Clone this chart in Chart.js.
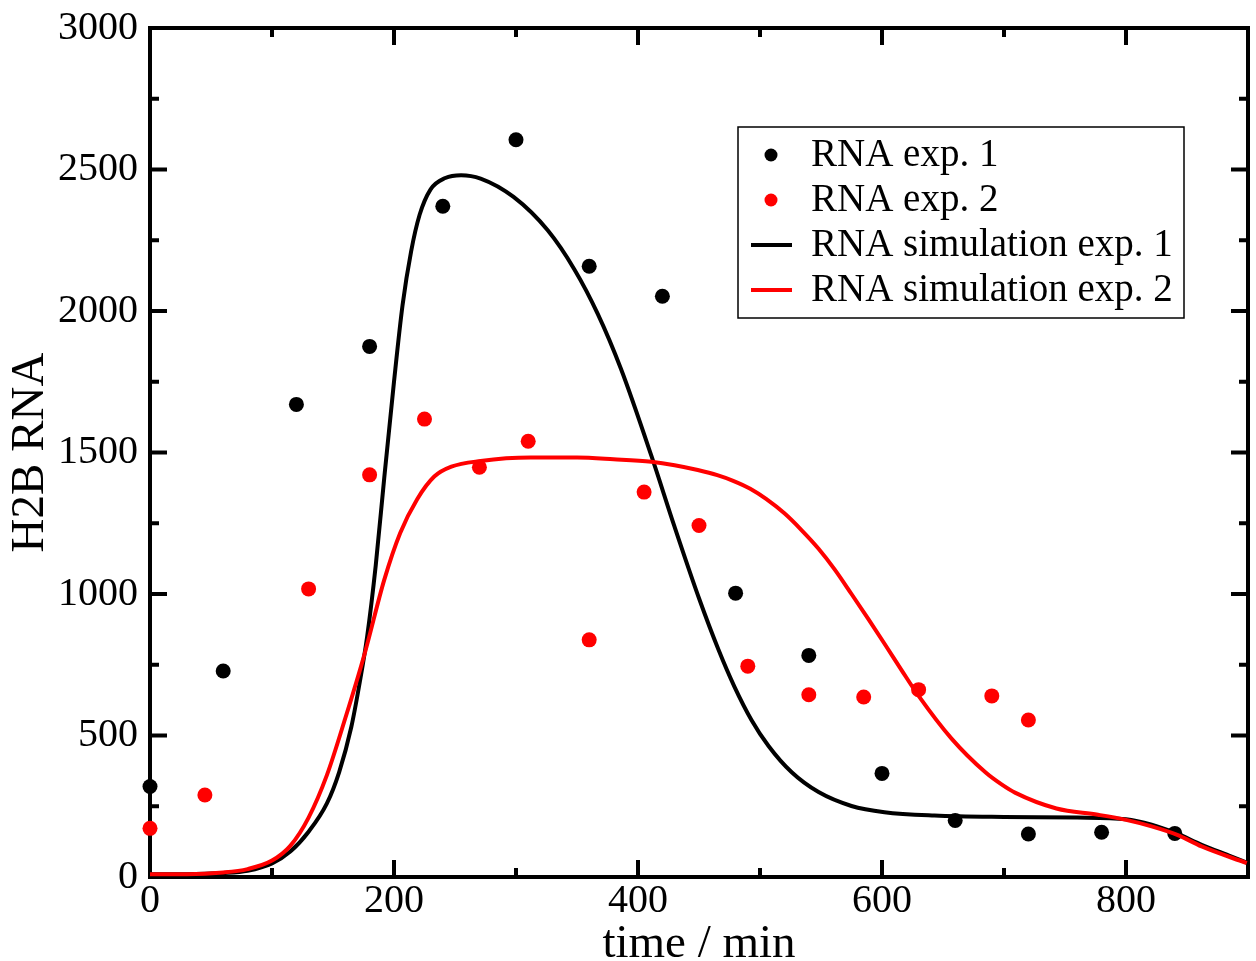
<!DOCTYPE html>
<html lang="en">
<head>
    <meta charset="UTF-8">
    <title>H2B RNA</title>
    <script src="https://cdn.jsdelivr.net/npm/chart.js"></script>
    <style>
        html, body { margin: 0; padding: 0; background: #fff; }
        #wrap { width: 1256px; height: 961px; }
    </style>
</head>
<body>
    <div id="wrap"><canvas id="rnaChart" width="1256" height="961"></canvas></div>
    <script>
        // measured points
        const exp1Time = [0, 60, 120, 180, 240, 300, 360, 420, 480, 540, 600, 660, 720, 780, 840];
        const exp1RNA = [320, 728, 1670, 1875, 2370, 2605, 2158, 2052, 1003, 783, 366, 200, 152, 158, 154];
        const exp2Time = [0, 45, 130, 180, 225, 270, 310, 360, 405, 450, 490, 540, 585, 630, 690, 720];
        const exp2RNA = [172, 290, 1018, 1421, 1618, 1448, 1540, 838, 1360, 1242, 745, 644, 636, 662, 640, 555];

        // simulation curves
        const sim1Time = [0, 30, 60, 80, 100, 115, 130, 145, 155, 165, 172, 178, 185, 192, 200, 207, 214, 221, 230, 242, 255, 271, 298, 326, 348, 367, 386, 411, 430, 450, 466, 479, 493, 507, 526, 548, 575, 602, 643, 700, 760, 800, 821, 841, 862, 886, 900];
        const sim1RNA = [10, 10, 14, 22, 48, 90, 160, 260, 370, 530, 690, 850, 1100, 1410, 1750, 2020, 2210, 2340, 2430, 2470, 2480, 2468, 2403, 2285, 2146, 1990, 1796, 1488, 1237, 985, 803, 673, 555, 463, 370, 300, 251, 229, 217, 212, 210, 204, 185, 155, 114, 73, 49];
        const sim2Time = [0, 30, 60, 80, 100, 115, 130, 145, 160, 176, 192, 205, 219, 233, 247, 271, 312, 350, 380, 411, 430, 449, 465, 478, 492, 505, 520, 534, 548, 561, 575, 589, 603, 616, 630, 657, 685, 698, 709, 743, 777, 800, 821, 842, 862, 899];
        const sim2RNA = [10, 10, 16, 28, 58, 110, 210, 360, 560, 790, 1050, 1215, 1335, 1415, 1450, 1470, 1482, 1482, 1476, 1467, 1455, 1438, 1420, 1400, 1372, 1336, 1285, 1226, 1160, 1088, 1000, 910, 818, 731, 640, 489, 369, 327, 298, 242, 220, 202, 179, 149, 108, 49];

        const xTicks = [0, 200, 400, 600, 800];
        const xMinor = [100, 300, 500, 700, 900];
        const yTicks = [0, 500, 1000, 1500, 2000, 2500, 3000];
        const yMinor = [250, 750, 1250, 1750, 2250, 2750];

        const FONT = "'Liberation Serif', 'Times New Roman', serif";

        const toXY = (xs, ys) => xs.map((x, i) => ({ x: x, y: ys[i] }));

        // box + inward ticks on all four sides
        const framePlugin = {
            id: 'frame',
            beforeDatasetsDraw(chart) {
                const ctx = chart.ctx;
                const a = chart.chartArea;
                const xs = chart.scales.x, ys = chart.scales.y;
                ctx.save();
                ctx.strokeStyle = '#000';
                ctx.lineWidth = 4;
                ctx.lineCap = 'butt';
                ctx.beginPath();
                xTicks.concat(xMinor).forEach(v => {
                    const len = xTicks.includes(v) ? 17 : 9;
                    const px = xs.getPixelForValue(v);
                    ctx.moveTo(px, a.bottom); ctx.lineTo(px, a.bottom - len);
                    ctx.moveTo(px, a.top); ctx.lineTo(px, a.top + len);
                });
                yTicks.concat(yMinor).forEach(v => {
                    const len = yTicks.includes(v) ? 17 : 9;
                    const py = ys.getPixelForValue(v);
                    ctx.moveTo(a.left, py); ctx.lineTo(a.left + len, py);
                    ctx.moveTo(a.right, py); ctx.lineTo(a.right - len, py);
                });
                ctx.stroke();
                ctx.strokeRect(a.left, a.top, a.right - a.left, a.bottom - a.top);
                ctx.restore();
            }
        };

        // legend box inside the plot
        const legendPlugin = {
            id: 'boxLegend',
            afterDraw(chart) {
                const ctx = chart.ctx;
                const left = 738, top = 127, w = 446, h = 191;
                ctx.save();
                ctx.fillStyle = '#fff';
                ctx.fillRect(left, top, w, h);
                ctx.strokeStyle = '#000';
                ctx.lineWidth = 1.5;
                ctx.strokeRect(left, top, w, h);
                ctx.font = '39px ' + FONT;
                ctx.textBaseline = 'middle';
                ctx.textAlign = 'left';
                chart.data.datasets.forEach((ds, i) => {
                    const cy = 155 + i * 45;
                    if (ds.showLine) {
                        ctx.strokeStyle = ds.borderColor;
                        ctx.lineWidth = 4;
                        ctx.beginPath();
                        ctx.moveTo(751, cy); ctx.lineTo(792, cy);
                        ctx.stroke();
                    } else {
                        ctx.fillStyle = ds.backgroundColor;
                        ctx.beginPath();
                        ctx.arc(771, cy, 6.5, 0, Math.PI * 2);
                        ctx.fill();
                    }
                    ctx.fillStyle = '#000';
                    ctx.fillText(ds.label, 811, cy + 1);
                });
                ctx.restore();
            }
        };

        const ctx = document.getElementById('rnaChart').getContext('2d');
        new Chart(ctx, {
            type: 'scatter',
            data: {
                datasets: [
                    {
                        label: 'RNA exp. 1',
                        data: toXY(exp1Time, exp1RNA),
                        backgroundColor: '#000',
                        borderColor: '#000',
                        pointRadius: 7.5,
                        pointBorderWidth: 0,
                        showLine: false,
                        clip: false,
                        order: 4
                    },
                    {
                        label: 'RNA exp. 2',
                        data: toXY(exp2Time, exp2RNA),
                        backgroundColor: '#ff0000',
                        borderColor: '#ff0000',
                        pointRadius: 7.5,
                        pointBorderWidth: 0,
                        showLine: false,
                        clip: false,
                        order: 3
                    },
                    {
                        label: 'RNA simulation exp. 1',
                        data: toXY(sim1Time, sim1RNA),
                        borderColor: '#000',
                        backgroundColor: '#000',
                        borderWidth: 4,
                        pointRadius: 0,
                        showLine: true,
                        cubicInterpolationMode: 'monotone',
                        order: 2
                    },
                    {
                        label: 'RNA simulation exp. 2',
                        data: toXY(sim2Time, sim2RNA),
                        borderColor: '#ff0000',
                        backgroundColor: '#ff0000',
                        borderWidth: 4,
                        pointRadius: 0,
                        showLine: true,
                        cubicInterpolationMode: 'monotone',
                        order: 1
                    }
                ]
            },
            options: {
                responsive: false,
                animation: false,
                layout: { autoPadding: false, padding: { top: 28, right: 8, left: 0, bottom: 0 } },
                plugins: {
                    legend: { display: false },
                    tooltip: { enabled: false }
                },
                scales: {
                    x: {
                        type: 'linear',
                        min: 0,
                        max: 900,
                        afterBuildTicks: s => { s.ticks = xTicks.map(v => ({ value: v })); },
                        afterFit: s => { s.height = 84; s.paddingLeft = 0; s.paddingRight = 0; },
                        grid: { display: false, drawTicks: false },
                        border: { display: false },
                        ticks: {
                            color: '#000', padding: 0, maxRotation: 0,
                            font: { family: FONT, size: 40 },
                            callback: v => String(v)
                        },
                        title: {
                            display: true,
                            text: 'time / min',
                            color: '#000',
                            padding: { top: 0, bottom: -7 },
                            font: { family: FONT, size: 47, lineHeight: 1 }
                        }
                    },
                    y: {
                        min: 0,
                        max: 3000,
                        afterBuildTicks: s => { s.ticks = yTicks.map(v => ({ value: v })); },
                        afterFit: s => { s.width = 150; s.paddingTop = 0; s.paddingBottom = 0; },
                        grid: { display: false, drawTicks: false },
                        border: { display: false },
                        ticks: {
                            color: '#000', padding: 12,
                            font: { family: FONT, size: 40 },
                            callback: v => String(v)
                        },
                        title: {
                            display: true,
                            text: 'H2B RNA',
                            color: '#000',
                            padding: { top: 7, bottom: 0 },
                            font: { family: FONT, size: 47, lineHeight: 1 }
                        }
                    }
                }
            },
            plugins: [framePlugin, legendPlugin]
        });
    </script>
</body>
</html>
